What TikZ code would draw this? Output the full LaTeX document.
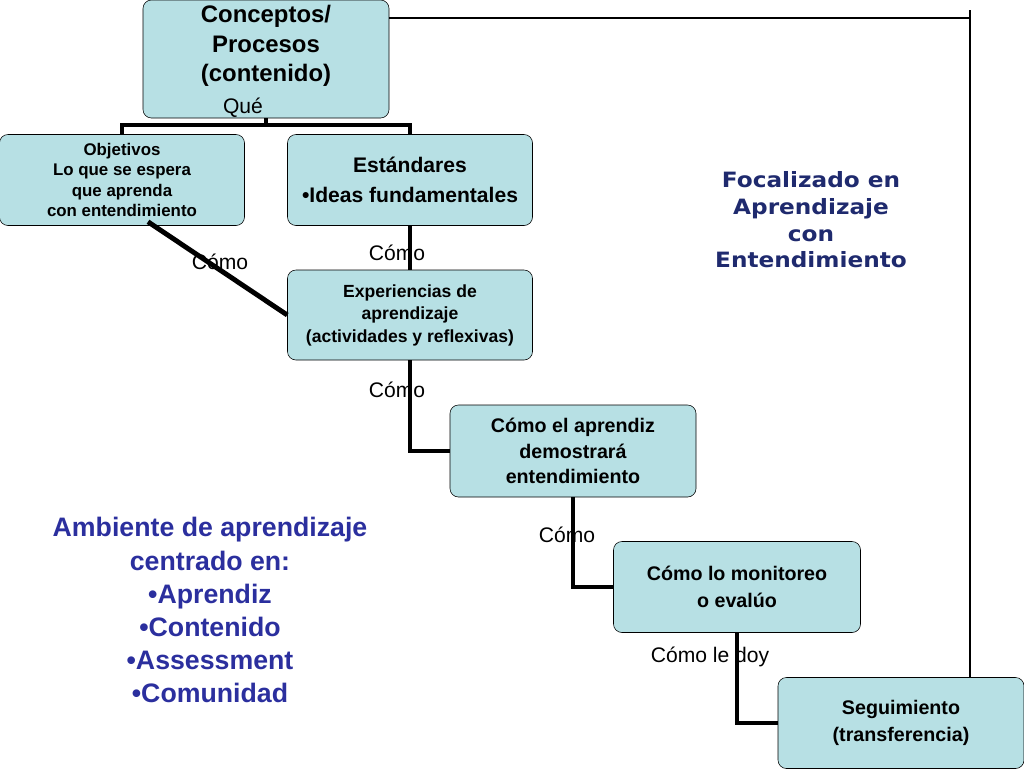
\documentclass[tikz,border=0pt]{standalone}
\usepackage{fontspec}
\setmainfont{Liberation Sans}
\newfontfamily\widefont{DejaVu Sans}
\usetikzlibrary{shapes.geometric}
\definecolor{boxfill}{HTML}{B7E0E4}
\definecolor{focal}{HTML}{1F2A6E}
\definecolor{ambi}{HTML}{2B2F9E}
\tikzset{
  cbox/.style={draw,rounded corners=6pt,fill=boxfill,align=center,font=\bfseries,inner sep=0pt},
  link/.style={line width=3.5pt},
  lbl/.style={font=\fontsize{15}{15}\selectfont,inner sep=0pt}
}
\begin{document}
\begin{tikzpicture}[x=0.25mm,y=-0.25mm]
  \useasboundingbox (0,0) rectangle (1024,768);
  \node (cp) [cbox,minimum width=246*0.25mm,minimum height=118*0.25mm] at (266,59) {};
  \node (cpt) [align=center,font=\bfseries\fontsize{17}{21}\selectfont] at (266,46) {Conceptos/\\Procesos\\(contenido)};
  \node (ob) [cbox,minimum width=245*0.25mm,minimum height=91*0.25mm,font=\bfseries\fontsize{12}{14.5}\selectfont] at (122,180) {Objetivos\\Lo que se espera\\que aprenda\\con entendimiento};
  \node (es) [cbox,minimum width=245*0.25mm,minimum height=91*0.25mm,font=\bfseries\fontsize{15}{21}\selectfont] at (410,180) {Estándares\\•Ideas fundamentales};
  \node (ex) [cbox,minimum width=245*0.25mm,minimum height=90*0.25mm,font=\bfseries\fontsize{12.5}{16}\selectfont] at (410,315) {Experiencias de\\aprendizaje\\(actividades y reflexivas)};
  \node (ap) [cbox,minimum width=246*0.25mm,minimum height=92*0.25mm,font=\bfseries\fontsize{14}{18}\selectfont] at (573,451) {Cómo el aprendiz\\demostrará\\entendimiento};
  \node (mo) [cbox,minimum width=247*0.25mm,minimum height=91*0.25mm,font=\bfseries\fontsize{14}{19}\selectfont] at (737,587) {Cómo lo monitoreo\\o evalúo};
  \node (sg) [cbox,minimum width=246*0.25mm,minimum height=91*0.25mm,font=\bfseries\fontsize{14}{19}\selectfont] at (901,723) {Seguimiento\\(transferencia)};

  % arbol de enlaces
  \coordinate (qj) at (266,125);
  \draw[link] (cp.south) -- (qj) -| (ob.north);
  \draw[link] (qj) -| (es.north);
  \path (ob.south) ++(26,-4) coordinate (obo) {};
  \draw[link] (obo) -- (ex.west);
  \draw[link] (es.south) -- (ex.north);
  \draw[link] (ex.south) |- (ap.west);
  \draw[link] (ap.south) |- (mo.west);
  \draw[link] (mo.south) |- (sg.west);
  \coordinate (rt) at (970,18);
  \draw[line width=1.3pt] (cp.east |- rt) -- (rt) -- (sg.north -| rt);
  \draw[line width=1.3pt] (970,10) -- (970,26);

  \node (qe) [lbl] at (243,108) {Qué};
  \node (c1) [lbl] at (220,262) {Cómo};
  \node (c2) [lbl] at (397,253) {Cómo};
  \node (c3) [lbl] at (397,390) {Cómo};
  \node (c4) [lbl] at (567,535) {Cómo};
  \node (c5) [lbl] at (710,657) {Cómo le doy};

  \node (fo) [align=center,text=focal,font=\widefont\bfseries\fontsize{15}{19}\selectfont,xscale=1.1] at (811,220) {Focalizado en\\Aprendizaje\\con\\Entendimiento};
  \node (am) [align=center,text=ambi,font=\bfseries\fontsize{19}{23.5}\selectfont] at (210,610) {Ambiente de aprendizaje\\centrado en:\\•Aprendiz\\•Contenido\\•Assessment\\•Comunidad};
\end{tikzpicture}
\end{document}
